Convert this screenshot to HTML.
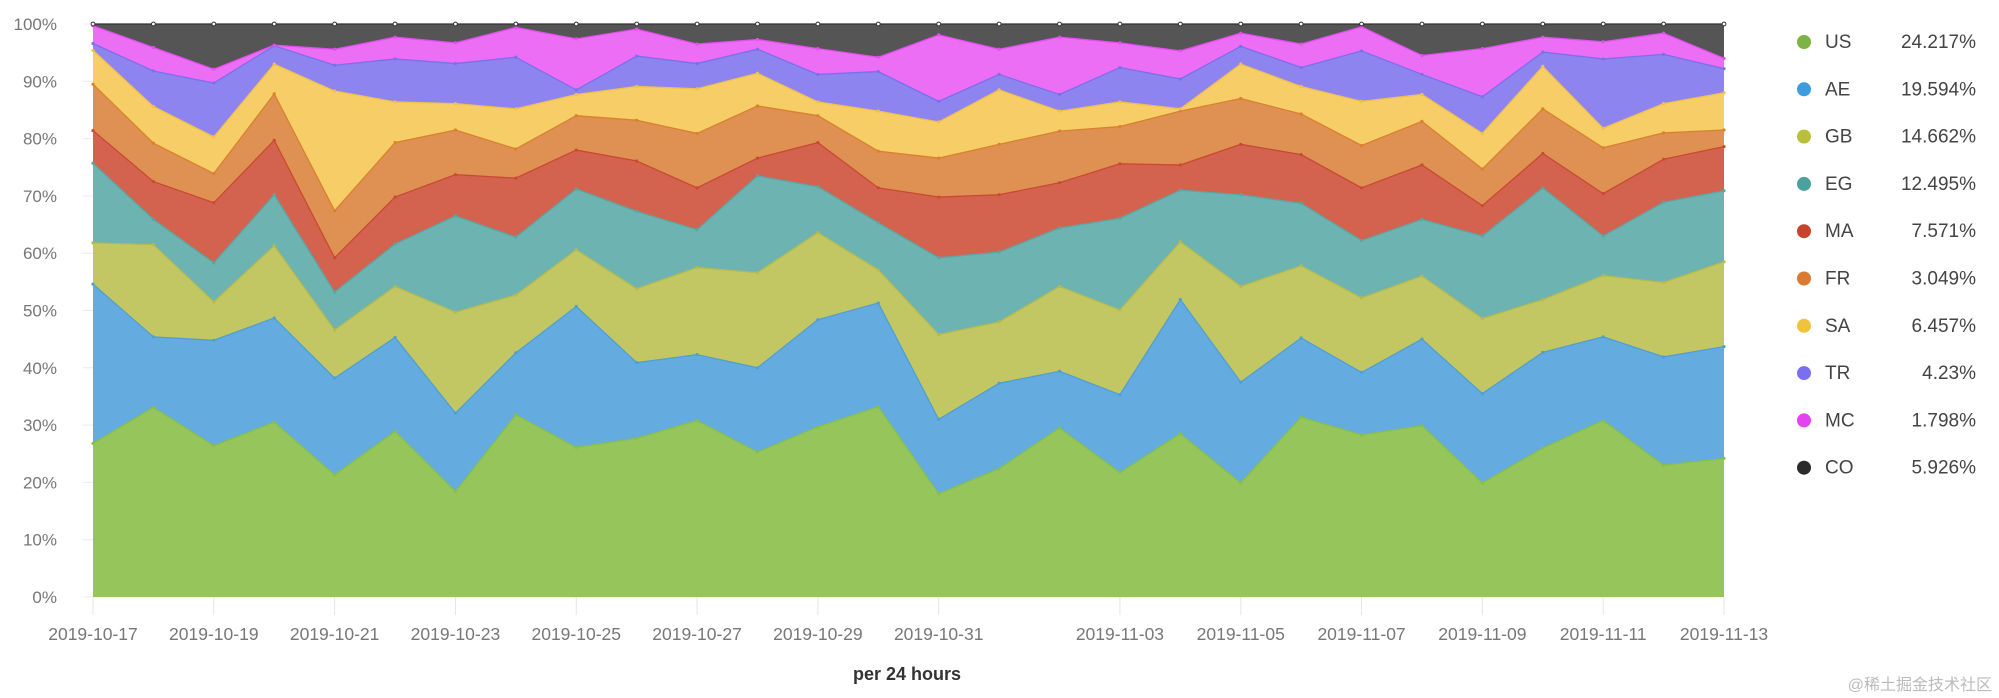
<!DOCTYPE html>
<html><head><meta charset="utf-8"><style>
html,body{margin:0;padding:0;background:#fff;}
svg{display:block;font-family:"Liberation Sans","Noto Sans CJK SC",sans-serif;}
</style></head><body>
<svg id="chart" width="1999" height="698" viewBox="0 0 1999 698"></svg>
<script>
const dates = ["2019-10-17","2019-10-18","2019-10-19","2019-10-20","2019-10-21","2019-10-22","2019-10-23","2019-10-24","2019-10-25","2019-10-26","2019-10-27","2019-10-28","2019-10-29","2019-10-30","2019-10-31","2019-11-01","2019-11-02","2019-11-03","2019-11-04","2019-11-05","2019-11-06","2019-11-07","2019-11-08","2019-11-09","2019-11-10","2019-11-11","2019-11-12","2019-11-13"];
const xTickLabels = ["2019-10-17","2019-10-19","2019-10-21","2019-10-23","2019-10-25","2019-10-27","2019-10-29","2019-10-31","2019-11-03","2019-11-05","2019-11-07","2019-11-09","2019-11-11","2019-11-13"];
const yTicks = [0,10,20,30,40,50,60,70,80,90,100];
const seriesNames = ["US","AE","GB","EG","MA","FR","SA","TR","MC","CO"];
const legendValues = ["24.217%","19.594%","14.662%","12.495%","7.571%","3.049%","6.457%","4.23%","1.798%","5.926%"];
// cumulative stacked tops (percent)
const usTop = [26.8,33.1,26.4,30.5,21.3,28.9,18.4,31.8,26.1,27.7,30.8,25.3,29.7,33.2,18.0,22.4,29.5,21.7,28.5,19.9,31.4,28.3,29.9,19.9,26.0,30.8,23.0,24.2];
const aeTop = [54.6,45.4,44.8,48.7,38.2,45.3,32.1,42.6,50.7,40.9,42.3,40.0,48.4,51.3,31.0,37.3,39.4,35.3,51.9,37.5,45.2,39.2,45.0,35.5,42.7,45.4,41.9,43.7];
const gbTop = [61.8,61.5,51.5,61.3,46.6,54.2,49.7,52.7,60.6,53.8,57.5,56.6,63.6,57.1,45.8,48.0,54.2,50.1,62.0,54.2,57.8,52.2,56.0,48.6,51.9,56.1,54.9,58.5];
const egTop = [75.7,65.9,58.3,70.2,53.2,61.6,66.5,62.8,71.2,67.3,64.1,73.5,71.6,65.3,59.2,60.2,64.4,66.1,71.0,70.2,68.7,62.2,65.9,63.0,71.4,63.0,68.9,70.9];
const maTop = [81.4,72.5,68.8,79.7,59.2,69.8,73.7,73.1,78.0,76.1,71.4,76.6,79.3,71.4,69.8,70.2,72.3,75.6,75.4,79.0,77.2,71.4,75.4,68.3,77.4,70.4,76.4,78.6];
const frTop = [89.5,79.2,73.9,87.8,67.4,79.3,81.5,78.2,84.0,83.2,80.9,85.7,84.0,77.8,76.6,79.0,81.3,82.1,84.8,87.0,84.3,78.8,83.0,74.7,85.2,78.4,81.0,81.5];
const saTop = [95.4,85.6,80.3,93.0,88.3,86.4,86.1,85.2,87.7,89.1,88.7,91.4,86.4,84.8,82.9,88.5,84.8,86.4,85.2,93.0,89.1,86.5,87.7,80.9,92.6,81.8,86.1,88.0];
const trTop = [96.6,91.8,89.7,96.2,92.8,93.9,93.1,94.2,88.5,94.4,93.1,95.6,91.2,91.7,86.5,91.2,87.7,92.4,90.4,96.1,92.4,95.3,91.2,87.3,95.1,93.9,94.7,92.2];
const mcTop = [99.7,95.9,92.1,96.3,95.6,97.7,96.7,99.4,97.4,99.1,96.5,97.3,95.7,94.2,98.1,95.6,97.7,96.7,95.3,98.4,96.5,99.5,94.5,95.7,97.7,96.9,98.4,94.0];
const coTop = [100,100,100,100,100,100,100,100,100,100,100,100,100,100,100,100,100,100,100,100,100,100,100,100,100,100,100,100];
const tops = [usTop,aeTop,gbTop,egTop,maTop,frTop,saTop,trTop,mcTop,coTop];
const fills = ["#95c55b","#64abdf","#c3c763","#6db3b1","#d3634f","#de9152","#f6cd67","#8d84f0","#ec6ef5","#555555"];
const strokes = ["#86c04a","#4f9fd6","#b5ba4c","#5aa6a3","#c94a33","#d9812f","#f0c048","#7a70ea","#e24ef0","#333333"];
const dotColors = ["#7cb342","#3d9be0","#b8bf3a","#4aa19e","#c8432b","#d97b32","#f1c33d","#7a6ff0","#e344f0","#2b2b2b"];

const svg = document.getElementById('chart');
const NS = "http://www.w3.org/2000/svg";
const X0=93, X1=1724, Y0=597, Y100=24;
const dayIndex = d => dates.indexOf(d);
const xs = i => X0 + (X1-X0)*i/(dates.length-1);
const ys = v => Y0 - (Y0-Y100)*v/100;
function mk(tag, attrs){const e=document.createElementNS(NS,tag);for(const k in attrs)e.setAttribute(k,attrs[k]);svg.appendChild(e);return e;}

yTicks.forEach(t=>{
  const g=mk('line',{x1:X0-10,x2:X1,y1:ys(t),y2:ys(t),stroke:'#ececec','stroke-width':1});
  
  
  const l=mk('text',{x:57,y:ys(t)+6,'text-anchor':'end','font-size':17,fill:'#777'});
  l.textContent=t+'%';
  
  
});

for(let s=0;s<tops.length;s++){
  const top=tops[s], bot=s?tops[s-1]:null;
  let d='';
  top.forEach((v,i)=>{d+=(i?'L':'M')+xs(i)+','+ys(v);});
  for(let i=dates.length-1;i>=0;i--){d+='L'+xs(i)+','+ys(bot?bot[i]:0);}
  const p=mk('path',{d:d+'Z',fill:fills[s],stroke:'none'});
  
  
}
for(let s=0;s<tops.length;s++){
  const top=tops[s];
  const pts=top.map((v,i)=>xs(i)+','+ys(v)).join(' ');
  const ln=mk('polyline',{points:pts,fill:'none',stroke:strokes[s],'stroke-width':1.3});
  
  
  top.forEach((v,i)=>{
    const c=mk('circle',{cx:xs(i),cy:ys(v),r:s===9?1.9:1.6,fill:s===9?'#fff':strokes[s],stroke:s===9?'#333':'none','stroke-width':1});
    
    
  });
}

xTickLabels.forEach(d=>{
  const x=xs(dayIndex(d));
  const tk=mk('line',{x1:x,x2:x,y1:Y0,y2:Y0+18,stroke:'#e6e6e6','stroke-width':1});
  
  
  const t=mk('text',{x:x,y:640,'text-anchor':'middle','font-size':17.5,fill:'#777'});
  t.textContent=d;
  
  
});

const at=mk('text',{x:907,y:680,'text-anchor':'middle','font-size':18,'font-weight':'bold',fill:'#333'});
at.textContent='per 24 hours';



seriesNames.forEach((n,i)=>{
  const y=41+i*47.3;
  const c=mk('circle',{cx:1804,cy:y+1,r:7,fill:dotColors[i]});
  
  
  const t=mk('text',{x:1825,y:y+7,'font-size':19,fill:'#444'});
  t.textContent=n;
  
  
  const v=mk('text',{x:1976,y:y+7,'text-anchor':'end','font-size':19,fill:'#444'});
  v.textContent=legendValues[i];
  
  
});

const wm=mk('text',{x:1992,y:690,'text-anchor':'end','font-size':16,fill:'#bbb'});
wm.textContent='@稀土掘金技术社区';


</script>
</body></html>
